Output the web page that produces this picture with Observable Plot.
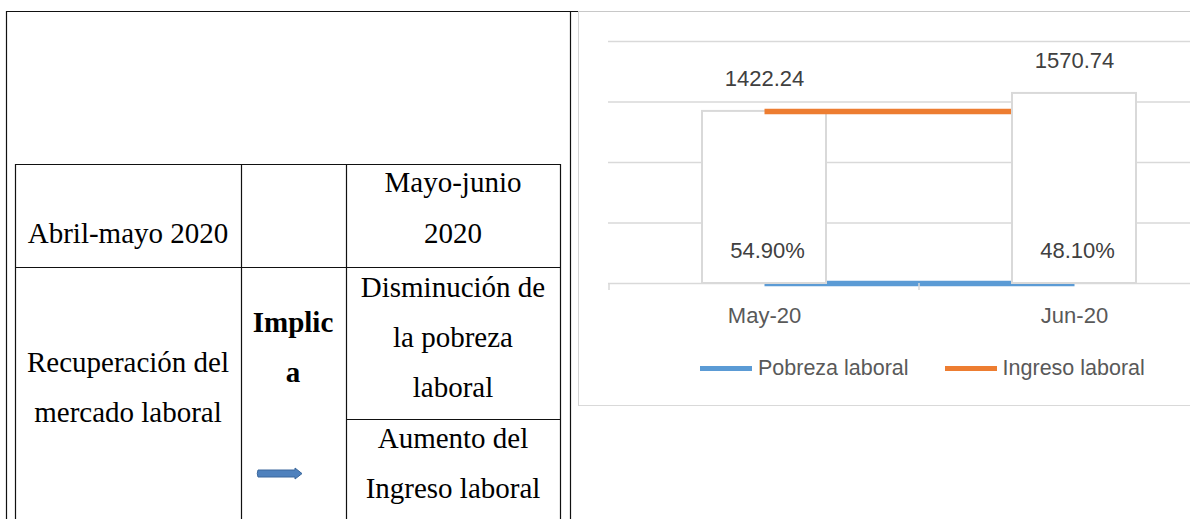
<!DOCTYPE html>
<html>
<head>
<meta charset="utf-8">
<script src="https://cdn.jsdelivr.net/npm/d3@7"></script>
<script src="https://cdn.jsdelivr.net/npm/@observablehq/plot@0.6"></script>
<style>
  html, body { margin: 0; padding: 0; background: #fff; }
  body { width: 1190px; height: 519px; overflow: hidden; position: relative; }
  #table { position: absolute; left: 0; top: 0; }
  #frame { position: absolute; left: 578px; top: 11px; width: 700px; height: 395px;
           border-left: 1.5px solid #d4d4d4; border-top: 1.5px solid #c8c8c8; border-bottom: 1.5px solid #d9d9d9; box-sizing: border-box; }
  #chart { position: absolute; left: 578px; top: 11px; width: 700px; }
  #chart svg { display: block; max-width: none; }
  #legend { position: absolute; left: 700px; top: 356px; height: 24px; display: flex; align-items: center;
            font-family: "Liberation Sans", Arial, sans-serif; font-size: 21.5px; color: #595959; }
  .sw { width: 52px; height: 5px; margin-right: 6px; }
  .item { display: flex; align-items: center; margin-right: 36px; white-space: nowrap; }
</style>
</head>
<body>
<svg id="table" width="580" height="519"></svg>
<div id="frame"></div>
<div id="chart"></div>
<div id="legend"></div>
<script>
// ---- Chart data ----
const months = ["May-20", "Jun-20"];
const pobreza = [0.549, 0.481];          // Pobreza laboral (shown as %)
const ingreso = [1422.24, 1570.74];      // Ingreso laboral
const yTicks = [0, 500, 1000, 1500, 2000];
const seriesNames = ["Pobreza laboral", "Ingreso laboral"];
const seriesColors = ["#5B9BD5", "#ED7D31"];

// ---- Table text ----
const tableLines = [
  {t: "Mayo-junio", cx: 453, by: 192, b: false},
  {t: "2020", cx: 453, by: 243, b: false},
  {t: "Abril-mayo 2020", cx: 128, by: 243, b: false},
  {t: "Disminución de", cx: 453, by: 297, b: false},
  {t: "la pobreza", cx: 453, by: 347, b: false},
  {t: "laboral", cx: 453, by: 397, b: false},
  {t: "Aumento del", cx: 453, by: 448, b: false},
  {t: "Ingreso laboral", cx: 453, by: 498, b: false},
  {t: "Recuperación del", cx: 128, by: 372, b: false},
  {t: "mercado laboral", cx: 128, by: 422, b: false},
  {t: "Implic", cx: 293, by: 332, b: true},
  {t: "a", cx: 293, by: 382, b: true}
];

// ---- Table drawing ----
const tsvg = d3.select("#table");
const tableRules = [
  [6.5, 11, 6.5, 519], [6, 11.5, 578, 11.5], [570.5, 11, 570.5, 519],
  [15.5, 164, 15.5, 519], [15, 164.5, 561, 164.5], [560.5, 164, 560.5, 519],
  [15, 267.5, 561, 267.5], [241.5, 164, 241.5, 519], [346.5, 164, 346.5, 519],
  [346, 419.5, 561, 419.5]
];
tsvg.selectAll("line").data(tableRules).join("line")
  .attr("x1", d => d[0]).attr("y1", d => d[1]).attr("x2", d => d[2]).attr("y2", d => d[3])
  .attr("stroke", "#111").attr("stroke-width", 1.2);
tsvg.selectAll("text").data(tableLines).join("text")
  .attr("x", d => d.cx).attr("y", d => d.by)
  .attr("text-anchor", "middle")
  .attr("font-family", "'Liberation Serif', 'Times New Roman', serif")
  .attr("font-size", 29).attr("font-weight", d => d.b ? "bold" : "normal")
  .attr("fill", "#000").text(d => d.t);
tsvg.append("path")
  .attr("d", "M258,470 L295,470 L295,468 L302,473.6 L295,479 L295,477 L258,477 Q256.5,473.5 258,470 Z")
  .attr("fill", "#4F81BD").attr("stroke", "#3A679C").attr("stroke-width", 1);

// ---- Chart ----
const rows = months.map((m, i) => ({month: m, pobreza: pobreza[i], ingreso: ingreso[i]}));
const fmtNum = d3.format(".2f");
const fmtPct = d3.format(".2%");

const chart = Plot.plot({
  width: 700, height: 395,
  marginLeft: 30, marginRight: 49, marginTop: 30, marginBottom: 123,
  style: {fontFamily: "'Liberation Sans', Arial, sans-serif", fontSize: "22px", color: "#595959", background: "transparent", maxWidth: "none", overflow: "visible"},
  x: {domain: months, paddingInner: 0.6, paddingOuter: 0.3, axis: null},
  y: {domain: [0, 2000], axis: null},
  marks: [
    Plot.ruleY(yTicks, {stroke: "#d9d9d9", strokeWidth: 1.5}),
    Plot.line(rows, {x: "month", y: "pobreza", curve: "step-after", stroke: seriesColors[0], strokeWidth: 5.5, strokeLinecap: "butt", strokeLinejoin: "miter"}),
    Plot.barY(rows, {filter: d => d.month === months[0], x: "month", y: "ingreso", fill: "white", stroke: "#d9d9d9", strokeWidth: 2}),
    Plot.line(rows, {x: "month", y: "ingreso", curve: "step-after", stroke: seriesColors[1], strokeWidth: 5.5, strokeLinecap: "butt", strokeLinejoin: "miter"}),
    Plot.barY(rows, {filter: d => d.month === months[1], x: "month", y: "ingreso", fill: "white", stroke: "#d9d9d9", strokeWidth: 2}),
    Plot.text(rows, {x: "month", y: "ingreso", text: d => fmtNum(d.ingreso), dy: -32, fontSize: 22, fill: "#404040"}),
    Plot.text(rows, {x: "month", y: "pobreza", text: d => fmtPct(d.pobreza), dy: -32, dx: 3, fontSize: 22, fill: "#404040"}),
    Plot.text(rows, {x: "month", frameAnchor: "bottom", lineAnchor: "middle", text: "month", dy: 32, fontSize: 22, fill: "#595959"})
  ]
});
document.getElementById("chart").appendChild(chart);

// category boundary ticks on the baseline
try {
  const sx = chart.scale("x");
  const sy = chart.scale("y");
  const step = sx.step ?? (sx.apply(months[1]) - sx.apply(months[0]));
  const bw = sx.bandwidth ?? step * 0.4;
  const gap = (step - bw) / 2;
  const bounds = months.map(m => sx.apply(m) - gap).concat([sx.apply(months[months.length - 1]) + bw + gap]);
  const y0 = sy.apply(0);
  d3.select(chart).append("g").selectAll("line").data(bounds).join("line")
    .attr("x1", d => d).attr("x2", d => d).attr("y1", y0).attr("y2", y0 + 7)
    .attr("stroke", "#d9d9d9").attr("stroke-width", 1.5);
} catch (e) { console.error(e); }

// ---- Legend ----
const legend = d3.select("#legend");
const items = legend.selectAll(".item").data(seriesNames).join("div").attr("class", "item");
items.append("div").attr("class", "sw").style("background", (d, i) => seriesColors[i]);
items.append("span").text(d => d);
</script>
</body>
</html>
